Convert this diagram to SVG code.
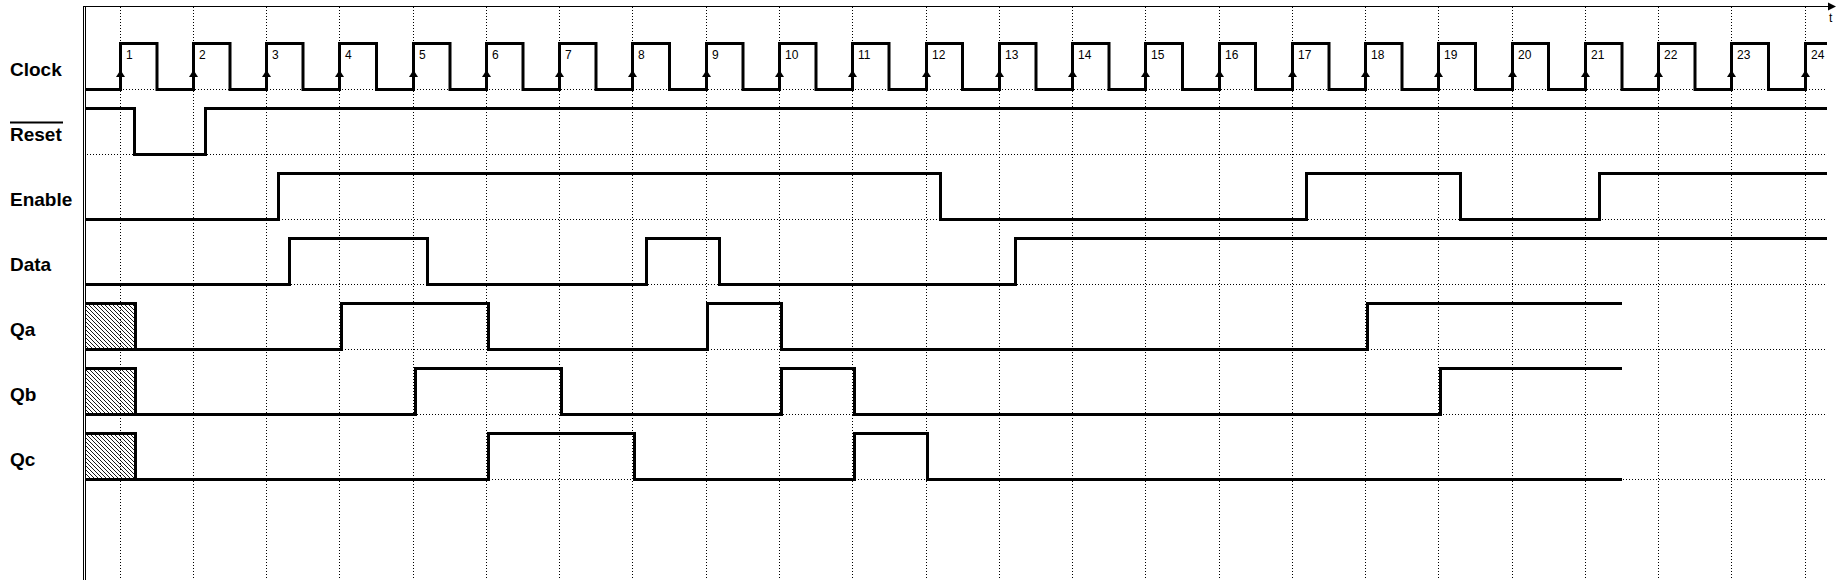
<svg xmlns="http://www.w3.org/2000/svg" width="1839" height="580" viewBox="0 0 1839 580">
<style>
.lbl{font-family:"Liberation Sans",Arial,sans-serif;font-weight:bold;font-size:19px;fill:#000}
.num{font-family:"Liberation Sans",Arial,sans-serif;font-size:12px;fill:#000}
.sig{fill:none;stroke:#000;stroke-width:3;stroke-linejoin:miter;stroke-linecap:butt}
.grid{stroke:#000;stroke-width:1;stroke-dasharray:1 2;fill:none}
.axis{stroke:#000;stroke-width:1;fill:none}
</style>
<defs>
<pattern id="hatch" patternUnits="userSpaceOnUse" width="4" height="4">
<path d="M-1,-1 L5,5 M-1,3 L1,5 M3,-1 L5,1" stroke="#000" stroke-width="0.9"/>
</pattern>
<polygon id="edge" points="0,0 -4.5,7 4.5,7" fill="#000"/>
</defs>
<rect width="1839" height="580" fill="#fff"/>

<g id="grid">
<path class="grid" d="M120.5,7V580M193.5,7V580M266.5,7V580M339.5,7V580M413.5,7V580M486.5,7V580M559.5,7V580M632.5,7V580M706.5,7V580M779.5,7V580M852.5,7V580M926.5,7V580M999.5,7V580M1072.5,7V580M1145.5,7V580M1219.5,7V580M1292.5,7V580M1365.5,7V580M1438.5,7V580M1512.5,7V580M1585.5,7V580M1658.5,7V580M1731.5,7V580M1805.5,7V580"/>
<path class="grid" d="M87,89.5H1826M87,154.5H1826M87,219.5H1826M87,284.5H1826M87,349.5H1826M87,414.5H1826M87,479.5H1826"/>
</g>

<g id="axes">
<path class="axis" d="M83.5,6V580M85.5,6V580M83,6.5H1830"/>
<polygon points="1836,6.5 1828,2.5 1828,10.5" fill="#000"/>
<text class="num" x="1829" y="22" font-size="13">t</text>
</g>

<g id="clock">
<text class="lbl" x="10" y="76">Clock</text>
<path class="sig" d="M85,89.5H120.5V43.5H157V89.5H193.5V43.5H230V89.5H266.5V43.5H303V89.5H339.5V43.5H376.5V89.5H413.5V43.5H450V89.5H486.5V43.5H523V89.5H559.5V43.5H596V89.5H632.5V43.5H669.5V89.5H706.5V43.5H743V89.5H779.5V43.5H816V89.5H852.5V43.5H889V89.5H926.5V43.5H962.5V89.5H999.5V43.5H1036V89.5H1072.5V43.5H1109V89.5H1145.5V43.5H1182.5V89.5H1219.5V43.5H1255.5V89.5H1292.5V43.5H1329V89.5H1365.5V43.5H1402V89.5H1438.5V43.5H1475.5V89.5H1512.5V43.5H1548.5V89.5H1585.5V43.5H1622V89.5H1658.5V43.5H1695V89.5H1731.5V43.5H1768.5V89.5H1805.5V43.5H1827"/>
<use href="#edge" x="120.5" y="70"/><use href="#edge" x="193.5" y="70"/><use href="#edge" x="266.5" y="70"/><use href="#edge" x="339.5" y="70"/><use href="#edge" x="413.5" y="70"/><use href="#edge" x="486.5" y="70"/><use href="#edge" x="559.5" y="70"/><use href="#edge" x="632.5" y="70"/><use href="#edge" x="706.5" y="70"/><use href="#edge" x="779.5" y="70"/><use href="#edge" x="852.5" y="70"/><use href="#edge" x="926.5" y="70"/><use href="#edge" x="999.5" y="70"/><use href="#edge" x="1072.5" y="70"/><use href="#edge" x="1145.5" y="70"/><use href="#edge" x="1219.5" y="70"/><use href="#edge" x="1292.5" y="70"/><use href="#edge" x="1365.5" y="70"/><use href="#edge" x="1438.5" y="70"/><use href="#edge" x="1512.5" y="70"/><use href="#edge" x="1585.5" y="70"/><use href="#edge" x="1658.5" y="70"/><use href="#edge" x="1731.5" y="70"/><use href="#edge" x="1805.5" y="70"/>
<g class="num">
<text x="126" y="59">1</text><text x="199" y="59">2</text><text x="272" y="59">3</text><text x="345" y="59">4</text><text x="419" y="59">5</text><text x="492" y="59">6</text><text x="565" y="59">7</text><text x="638" y="59">8</text><text x="712" y="59">9</text>
<text x="785" y="59">10</text><text x="858" y="59">11</text><text x="932" y="59">12</text><text x="1005" y="59">13</text><text x="1078" y="59">14</text><text x="1151" y="59">15</text><text x="1225" y="59">16</text><text x="1298" y="59">17</text><text x="1371" y="59">18</text><text x="1444" y="59">19</text><text x="1518" y="59">20</text><text x="1591" y="59">21</text><text x="1664" y="59">22</text><text x="1737" y="59">23</text><text x="1811" y="59">24</text>
</g>
</g>

<g id="reset">
<text class="lbl" x="10" y="141">Reset</text>
<line x1="10" y1="122.5" x2="63" y2="122.5" stroke="#000" stroke-width="2"/>
<path class="sig" d="M85,108.5H134.5V154.5H205.5V108.5H1827"/>
</g>

<g id="enable">
<text class="lbl" x="10" y="206">Enable</text>
<path class="sig" d="M85,219.5H278.5V173.5H940.5V219.5H1306.5V173.5H1460.5V219.5H1599.5V173.5H1827"/>
</g>

<g id="data">
<text class="lbl" x="10" y="271">Data</text>
<path class="sig" d="M85,284.5H289.5V238.5H427.5V284.5H646.5V238.5H719.5V284.5H1015.5V238.5H1827"/>
</g>

<g id="qa">
<text class="lbl" x="10" y="336">Qa</text>
<rect x="86" y="303.5" width="49.5" height="46" fill="url(#hatch)"/>
<path class="sig" d="M85,303.5H135.5V349.5M85,349.5H341.5V303.5H488.5V349.5H707.5V303.5H781.5V349.5H1367.5V303.5H1622"/>
</g>

<g id="qb">
<text class="lbl" x="10" y="401">Qb</text>
<rect x="86" y="368.5" width="49.5" height="46" fill="url(#hatch)"/>
<path class="sig" d="M85,368.5H135.5V414.5M85,414.5H415.5V368.5H561.5V414.5H781.5V368.5H854.5V414.5H1440.5V368.5H1622"/>
</g>

<g id="qc">
<text class="lbl" x="10" y="466">Qc</text>
<rect x="86" y="433.5" width="49.5" height="46" fill="url(#hatch)"/>
<path class="sig" d="M85,433.5H135.5V479.5M85,479.5H488.5V433.5H634.5V479.5H854.5V433.5H927.5V479.5H1622"/>
</g>
</svg>
